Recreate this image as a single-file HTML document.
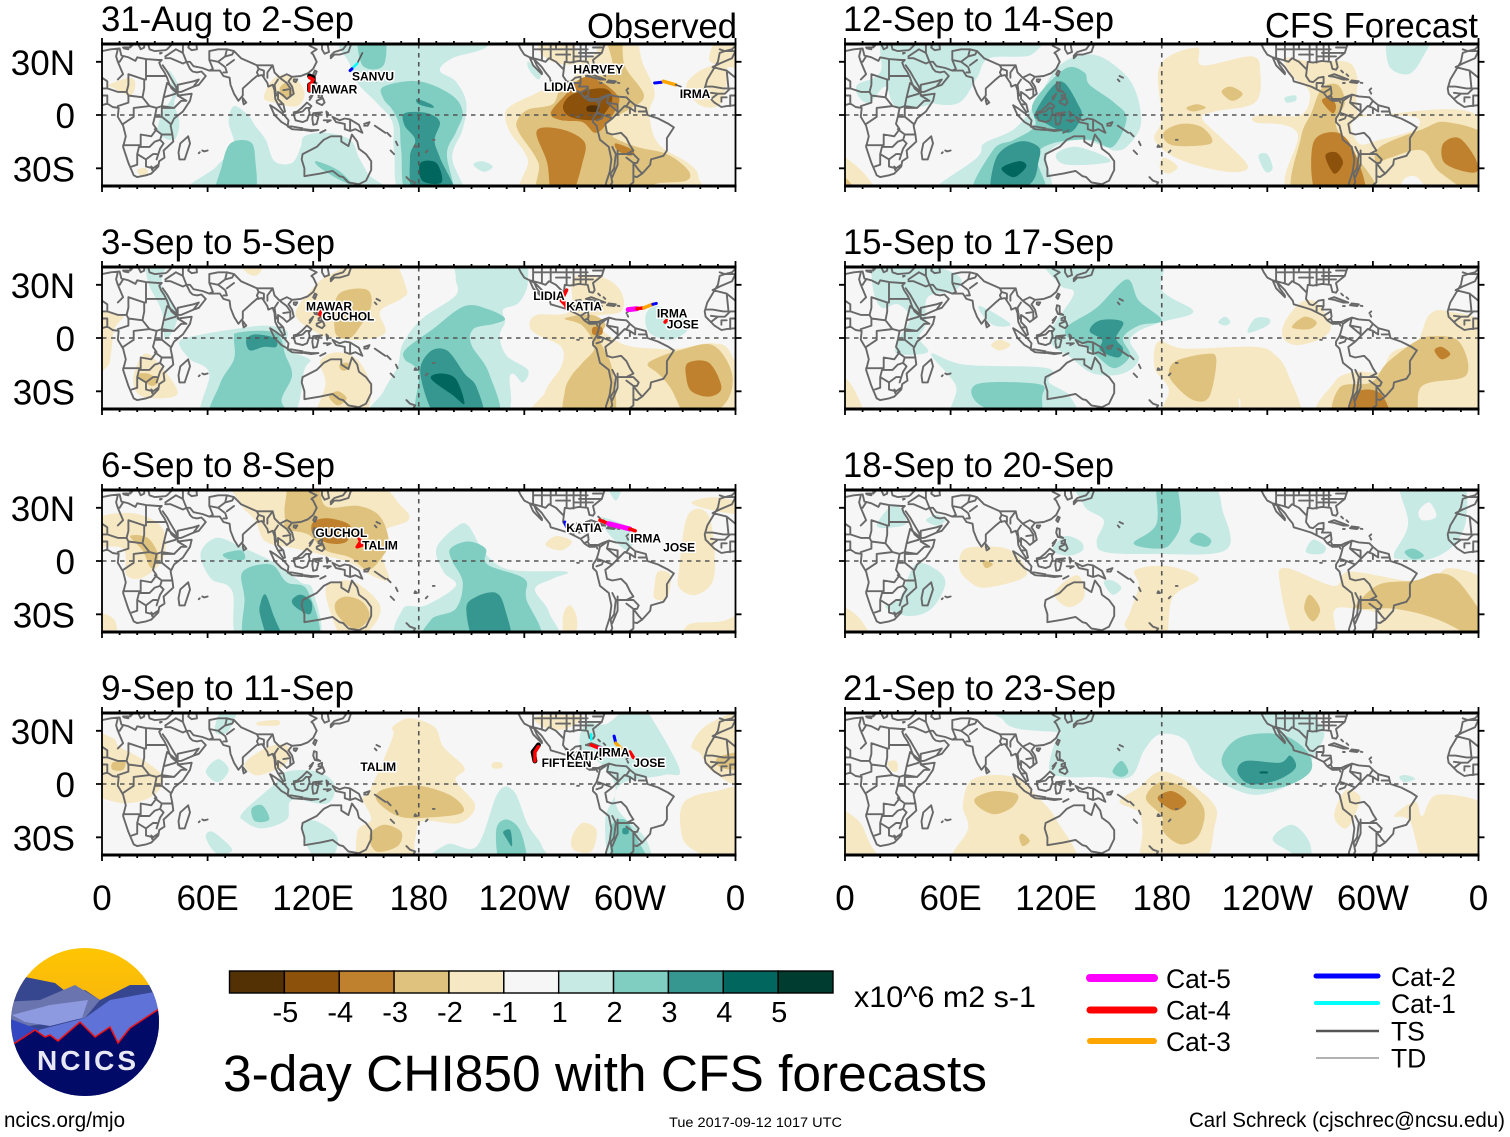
<!DOCTYPE html>
<html lang="en">
<head>
<meta charset="utf-8">
<title>3-day CHI850 with CFS forecasts</title>
<style>
html,body{margin:0;padding:0;background:#fff;width:1510px;height:1137px;overflow:hidden}
svg{display:block;font-family:"Liberation Sans",sans-serif}
text{fill:#000}
.storm{font-size:12px;font-weight:bold;stroke:#fff;stroke-width:3px;paint-order:stroke;stroke-linejoin:round;fill:#000}
</style>
</head>
<body>
<svg id="chart" xmlns="http://www.w3.org/2000/svg" width="1510" height="1137" viewBox="0 0 1510 1137">
  <defs>
    <linearGradient id="sky" x1="0" y1="0" x2="0" y2="1"><stop offset="0" stop-color="#ffc800"/><stop offset="1" stop-color="#ee9a22"/></linearGradient>
    <clipPath id="logo-clip"><circle cx="85" cy="1022" r="74"/></clipPath>
  </defs>
  <g id="panels"></g>

  <g font-size="35">
    <text x="101" y="31" textLength="253" lengthAdjust="spacingAndGlyphs">31-Aug to 2-Sep</text>
    <text x="101" y="254" textLength="234" lengthAdjust="spacingAndGlyphs">3-Sep to 5-Sep</text>
    <text x="101" y="477" textLength="234" lengthAdjust="spacingAndGlyphs">6-Sep to 8-Sep</text>
    <text x="101" y="700" textLength="253" lengthAdjust="spacingAndGlyphs">9-Sep to 11-Sep</text>
    <text x="843" y="31" textLength="271" lengthAdjust="spacingAndGlyphs">12-Sep to 14-Sep</text>
    <text x="843" y="254" textLength="271" lengthAdjust="spacingAndGlyphs">15-Sep to 17-Sep</text>
    <text x="843" y="477" textLength="271" lengthAdjust="spacingAndGlyphs">18-Sep to 20-Sep</text>
    <text x="843" y="700" textLength="273" lengthAdjust="spacingAndGlyphs">21-Sep to 23-Sep</text>
    <text x="587" y="38" textLength="150" lengthAdjust="spacingAndGlyphs">Observed</text>
    <text x="1265" y="37.5" textLength="213" lengthAdjust="spacingAndGlyphs">CFS Forecast</text>
  </g>

  <g id="colorbar"></g>
  <text x="854" y="1007" font-size="30" textLength="182" lengthAdjust="spacingAndGlyphs">x10^6 m2 s-1</text>
  <text x="223" y="1091" font-size="51" textLength="764" lengthAdjust="spacingAndGlyphs">3-day CHI850 with CFS forecasts</text>

  <g font-size="26.5">
    <line x1="1090" y1="978" x2="1154" y2="978" stroke="#ff00ff" stroke-width="8" stroke-linecap="round"/>
    <text x="1166" y="988">Cat-5</text>
    <line x1="1090" y1="1010" x2="1154" y2="1010" stroke="#ff0000" stroke-width="7" stroke-linecap="round"/>
    <text x="1166" y="1019.5">Cat-4</text>
    <line x1="1090" y1="1041" x2="1154" y2="1041" stroke="#ffa500" stroke-width="6" stroke-linecap="round"/>
    <text x="1166" y="1051">Cat-3</text>
    <line x1="1316" y1="976" x2="1378" y2="976" stroke="#0000ff" stroke-width="5" stroke-linecap="round"/>
    <text x="1391" y="986">Cat-2</text>
    <line x1="1316" y1="1003" x2="1378" y2="1003" stroke="#00ffff" stroke-width="4" stroke-linecap="round"/>
    <text x="1391" y="1013">Cat-1</text>
    <line x1="1316" y1="1031" x2="1379" y2="1031" stroke="#555" stroke-width="2.5"/>
    <text x="1391" y="1040.5">TS</text>
    <line x1="1316" y1="1058" x2="1379" y2="1058" stroke="#999" stroke-width="1.5"/>
    <text x="1391" y="1067.5">TD</text>
  </g>

  <g clip-path="url(#logo-clip)">
    <rect x="0" y="940" width="170" height="170" fill="url(#sky)"/>
    <path d="M0,990 L25,977 L55,983 L70,995 L85,990 L100,1000 L130,985 L165,985 L165,1100 L0,1100Z" fill="#36468f"/>
    <path d="M0,1002 L40,1000 L75,985 L100,1000 L85,1018 L0,1030Z" fill="#6a74ae"/>
    <path d="M85,1018 L110,1000 L165,990 L165,1100 L0,1100 L0,1040 Z" fill="#5f72d8"/>
    <path d="M12,1015 L50,1005 L88,1000 L82,1018 L50,1026 L25,1022Z" fill="#8e9ae0"/>
    <path d="M5,1017 L40,1030 L15,1043 L5,1043Z" fill="#3348c0"/>
    <path d="M0,1042 L15,1043 L35,1030 L45,1037 L50,1035 L58,1041 L80,1022 L95,1037 L110,1027 L118,1043 L130,1028 L165,1005 L165,1100 L0,1100Z" fill="#020a68" stroke="#ee1111" stroke-width="1.5"/>
    <text x="37" y="1070" font-size="28" font-weight="bold" style="fill:#e8e8f4" textLength="99" lengthAdjust="spacing">NCICS</text>
  </g>

  <text x="4" y="1127" font-size="21" textLength="121" lengthAdjust="spacingAndGlyphs">ncics.org/mjo</text>
  <text x="669" y="1127" font-size="14" textLength="173" lengthAdjust="spacingAndGlyphs">Tue 2017-09-12 1017 UTC</text>
  <text x="1189" y="1127" font-size="21" textLength="316" lengthAdjust="spacingAndGlyphs">Carl Schreck (cjschrec@ncsu.edu)</text>
</svg>

<script>
// ---------- chart data (anomaly contour outlines as [level, [lon,lat,...]]) ----------
const levelValues = [-5,-4,-3,-2,-1,0,1,2,3,4,5];
const barTickLabels = ['-5','-4','-3','-2','-1','1','2','3','4','5'];
const lonTickLabels = ['0','60E','120E','180','120W','60W','0'];
const lonTickValues = [0,60,120,180,240,300,360];
const latTickLabels = ['30N','0','30S'];
const latTickValues = [30,0,-30];

const shapes1 = [
[1,[139,41,141,28,146,17,156,7,165,-4,166,-20,171,-40,205,-40,199,-24,205,-8,207,7,201,19,192,25,199,32,218,38,217,41]],
[1,[51,-40,65,-29,75,-18,72,-4,75,5,83,0,87,-6,93,-14,98,-26,108,-27,113,-18,115,-12,127,-10,141,-14,146,-24,151,-33,158,-40]],
[1,[38,25,44,15,41,7,44,-4,41,-14,32,-10,34,1,40,11]],
[1,[242,30,249,24,248,20,243,25]],
[1,[211,-28,216,-26,222,-29,217,-32]],
[2,[146,41,148,28,160,28,160,41]],
[2,[160,16,180,19,199,11,205,1,201,-10,196,-22,199,-40,174,-40,170,-20,169,-6,165,3,160,9]],
[3,[172,1,185,1,192,-4,189,-14,192,-24,201,-40,178,-40,175,-24,178,-14,172,-6]],
[3,[179,9,187,6,188,4,180,6]],
[4,[181,-27,190,-27,193,-38,182,-37]],
[2,[65,-40,68,-29,73,-16,84,-15,87,-24,86,-40]],
[2,[122,-26,134,-31,142,-39,134,-36,123,-29]],
[-1,[229,0,232,5,244,11,255,16,268,21,271,30,280,34,286,41,302,41,307,30,314,13,311,1,316,-16,333,-27,339,-35,333,-40,244,-40,242,-25,232,-10]],
[0,[290,-35,304,-31,306,-40,288,-40]],
[-2,[236,-3,242,3,256,6,261,15,274,21,290,25,286,41,295,41,297,28,308,11,299,3,287,-4,290,-12,304,-18,321,-22,333,-31,332,-37,314,-39,306,-40,251,-40,248,-27,237,-10]],
[-3,[247,-9,261,-8,274,-15,273,-27,266,-40,256,-40,253,-27]],
[-3,[255,1,263,11,273,21,283,19,293,11,293,5,286,-6,280,-10,273,-4,261,-3]],
[-3,[292,-16,302,-20,300,-23,293,-20]],
[-4,[262,5,268,12,285,15,290,9,284,-1,278,-3,266,-1]],
[-5,[276,5,282,5,282,2,276,2]],
[-1,[92,10,98,21,108,22,115,13,111,5,98,7]],
[-2,[101,15,105,18,109,12,103,10]],
[-1,[4,17,16,21,19,17,16,11,7,15]],
[-1,[20,-31,25,-30,26,-34,22,-34]],
[-1,[333,19,342,26,355,28,352,7,341,5,333,13]],
[-1,[345,32,352,41,362,41,362,28,352,28]],
[-1,[248,39,263,41,271,30,256,30]]
];
const shapes2 = [
[1,[44,-2,57,2,75,5,93,7,105,4,105,-6,118,-12,115,-18,105,-40,58,-40,61,-20,50,-12]],
[2,[75,0,77,3,93,4,101,1,104,-9,108,-21,102,-35,105,-40,63,-40,67,-26,75,-12]],
[3,[82,-1,87,2,98,0,99,-5,92,-5,84,-7]],
[1,[203,41,237,41,242,32,237,20,228,16,229,9,226,1,230,-10,242,-18,239,-25,232,-21,225,-40,154,-40,160,-30,168,-16,171,-3,182,11,201,24,201,34]],
[2,[173,-6,188,5,206,18,220,16,229,11,223,8,211,5,210,-4,220,-20,224,-40,181,-40,180,-20,172,-12]],
[3,[181,-21,186,-8,196,-7,206,-20,213,-28,216,-40,192,-40]],
[4,[187,-23,192,-20,201,-23,206,-37,199,-32]],
[1,[309,13,315,18,328,13,333,5,323,-1,311,3]],
[1,[26,41,38,41,34,30,43,13,36,-1,34,15,26,32]],
[-1,[77,41,93,41,89,36,82,37]],
[-1,[110,13,118,26,130,36,161,41,173,28,170,22,158,15,161,3,148,-1,134,0,122,3]],
[-2,[132,7,133,22,139,27,151,27,153,18,147,7,141,0,134,1]],
[-1,[124,-13,134,-8,146,-13,153,-30,146,-40,122,-40,127,-26]],
[-2,[129,-33,134,-30,139,-34,134,-38]],
[-2,[135,-15,140,-14,139,-18,136,-18]],
[-1,[18,-21,24,-9,32,-14,43,-31,29,-34,20,-31]],
[-2,[20,-21,26,-20,32,-24,28,-27]],
[-1,[0,11,12,13,7,5,5,-10,3,-16,0,-20]],
[-1,[243,7,247,13,266,15,268,34,285,34,295,26,295,15,279,11,295,-3,314,-6,328,-6,347,-3,358,-10,360,-40,252,-40,252,-30,261,-16,261,-5,247,2]],
[-2,[267,-21,273,-14,280,-5,273,7,263,11,278,13,286,8,283,-1,290,-18,290,-40,264,-40,263,-30]],
[-2,[310,-15,316,-11,328,-7,347,-4,358,-20,354,-37,335,-40,323,-28,316,-20]],
[-3,[333,-14,345,-14,352,-28,345,-33,335,-30,332,-22]],
[-3,[279,6,284,6,284,2,279,2]]
];
const shapes3 = [
[-1,[78,41,148,41,170,31,174,23,160,17,159,7,160,0,163,-11,153,-8,141,-1,127,3,110,7,93,11,87,23,79,32]],
[-2,[104,23,104,32,108,41,122,41,127,31,146,31,158,25,163,11,159,2,151,-5,141,2,127,6,117,15,104,18]],
[-3,[120,22,129,24,141,20,139,11,129,10,120,15]],
[-1,[127,-17,132,-12,144,-12,158,-25,153,-38,139,-40,132,-35]],
[-2,[133,-23,139,-20,148,-23,152,-31,146,-38,139,-36,133,-29]],
[-1,[0,23,17,27,34,19,35,2,24,-9,14,-8,12,7,0,9]],
[-2,[16,14,26,13,32,3,28,-4,23,6]],
[-1,[252,9,258,14,267,11,261,6]],
[-1,[314,-14,316,-6,323,-8,321,-21,314,-21]],
[-1,[333,26,345,25,348,-8,338,-19,328,-15,328,-4]],
[-1,[335,33,348,36,360,32,360,26,345,29]],
[-1,[333,-36,352,-34,360,-30,360,-40,333,-40]],
[-1,[262,-31,266,-25,270,-33,268,-40,263,-40]],
[-1,[0,-30,7,-33,7,-40,0,-40]],
[1,[56,4,65,13,79,8,98,-1,113,-12,120,-17,122,-40,79,-40,74,-17,62,-10]],
[2,[80,-6,96,-2,105,-12,117,-17,122,-40,83,-40,81,-21]],
[2,[69,4,79,6,81,1,72,1]],
[3,[90,-24,93,-19,98,-32,104,-40,96,-40,90,-31]],
[3,[108,-22,113,-19,119,-23,118,-30,110,-26]],
[1,[190,7,201,19,208,20,218,4,232,-5,264,-6,256,-10,246,-16,254,-29,254,-40,173,-40,171,-27,184,-25,201,-14,194,-6]],
[2,[198,7,208,11,218,7,219,-2,240,-10,241,-21,247,-40,186,-40,187,-33,201,-27,205,-12,199,0]],
[3,[207,-27,213,-20,224,-18,229,-27,232,-40,213,-40]],
[1,[286,41,296,41,292,34]],
[1,[283,23,287,24,302,17,299,6,290,13]]
];
const shapes4 = [
[-1,[152,-4,165,26,165,32,175,37,189,32,194,21,206,9,201,2,212,-12,203,-22,182,-21,178,-31,174,-40,148,-40,145,-27,153,-20,148,-8]],
[-2,[156,-9,160,-3,180,-1,199,-7,205,-16,184,-19,168,-18]],
[-2,[152,-29,160,-23,170,-27,168,-35,156,-38]],
[-1,[81,11,89,18,98,22,106,21,105,12,96,7,87,5]],
[-1,[0,27,6,26,10,21,21,15,34,5,32,-4,21,-10,7,-10,0,-2]],
[-2,[6,12,13,13,12,8,6,8]],
[-1,[89,35,100,36,100,33,89,33]],
[-1,[335,22,345,34,360,38,360,0,347,7,340,17]],
[-2,[350,15,360,18,360,9,352,9]],
[-1,[329,-26,331,-10,349,-4,360,-5,360,-40,336,-37]],
[-1,[267,-30,273,-22,281,-26,278,-38,268,-37]],
[-1,[222,12,227,12,227,9,222,9]],
[-1,[247,38,273,38,263,31,251,32]],
[1,[80,-16,98,0,105,7,122,7,132,0,128,-11,108,-9,105,-20,91,-25,81,-21]],
[2,[85,-14,91,-12,95,-20,87,-21]],
[1,[59,7,66,14,72,8,66,1]],
[1,[70,41,78,41,72,30,64,30]],
[1,[59,-30,63,-27,74,-37,65,-39]],
[1,[114,-23,122,-21,134,-31,127,-40,117,-36]],
[1,[186,-40,196,-34,213,-35,225,-5,234,-4,242,-23,250,-35,250,-40]],
[2,[224,-26,230,-20,238,-27,241,-40,227,-40]],
[3,[228,-27,232,-26,233,-35,230,-31]],
[1,[302,41,306,41,328,9,319,5,295,0,293,-14,309,-31,311,-40,290,-40,286,-20,292,-4,286,9,272,21,275,34,287,34]],
[2,[289,-25,297,-20,304,-31,311,-40,292,-40]],
[3,[296,-25,299,-25,299,-28,296,-28]]
];
const shapes5 = [
[1,[7,17,20,24,28,41,106,41,106,34,82,32,75,21,65,7,49,7,43,15,48,6,29,5,23,16,14,7,8,10]],
[1,[49,-40,75,-24,79,-16,96,-8,107,5,122,28,141,34,158,24,166,11,168,-6,160,-18,153,-20,148,-18,132,-14,115,-22,113,-40]],
[1,[120,-22,132,-18,151,-26,126,-28]],
[2,[73,-40,84,-20,96,-14,108,-6,107,7,125,26,136,24,139,17,153,7,160,-2,152,-18,139,-14,118,-16,109,-24,113,-40]],
[3,[84,-40,86,-24,99,-15,110,-18,110,-26,105,-39]],
[3,[108,1,122,19,133,5,134,-2,127,-10,113,-4]],
[4,[89,-30,99,-26,103,-29,96,-35]],
[1,[250,10,256,11,256,8,251,7]],
[1,[235,-23,240,-22,243,-30,239,-32]],
[1,[310,41,333,41,328,32,320,23,309,28]],
[-1,[179,28,200,38,203,28,231,33,236,24,233,7,210,2,203,-2,215,-14,229,-29,217,-32,190,-25,176,-14,180,-2]],
[-1,[181,-24,189,-29,184,-33,179,-30]],
[-2,[214,13,219,16,226,12,220,8]],
[-2,[194,4,200,6,205,4,198,2]],
[-2,[181,-10,191,-5,203,-7,208,-16,186,-17]],
[-1,[250,32,266,30,285,30,291,22,291,5,299,0,359,0,360,-40,257,-40,257,-10,233,-4,236,0,259,0,264,13,254,22]],
[0,[290,-2,323,-1,324,-8,304,-14,292,-16]],
[0,[317,-37,325,-35,332,-40,317,-40]],
[-2,[259,-13,265,1,271,15,280,17,284,7,279,-6,290,-22,302,-40,256,-40]],
[-2,[304,-18,328,-8,342,-4,360,-14,360,-40,339,-33,328,-20,310,-24,302,-27]],
[-3,[266,-16,280,-10,290,-22,295,-40,269,-40]],
[-3,[271,8,276,10,279,5,277,1]],
[-3,[340,-16,349,-13,358,-24,359,-32,349,-31,340,-26]],
[-4,[273,-23,279,-21,283,-27,278,-33]],
[-1,[0,-23,9,-31,18,-40,0,-40]],
[-2,[0,-30,9,-40,0,-40]]
];
const shapes6 = [
[1,[115,41,177,41,180,27,198,15,180,9,167,4,162,-2,167,-12,158,-20,141,-20,127,-10,118,-4,118,6,130,25,122,30]],
[2,[126,1,127,7,143,17,160,33,167,21,180,10,167,7,158,0,162,-10,153,-17,143,-10,134,-2]],
[3,[139,4,145,10,158,9,154,0,158,-6,155,-11,145,-7,146,-1]],
[1,[49,-9,68,-15,115,-17,116,-25,128,-33,127,-40,64,-40,63,-27]],
[2,[75,-26,110,-26,112,-33,108,-40,77,-38]],
[1,[16,41,28,41,63,36,63,27,47,23,46,8,42,0,47,-8,30,-9,30,-2,37,11,30,19,21,17,16,27]],
[1,[77,18,94,8,85,7,78,13]],
[1,[212,9,216,12,219,9,216,7]],
[1,[229,3,233,11,241,11,240,7]],
[-1,[249,0,250,9,259,20,268,20,276,7,271,0,257,-4]],
[-2,[254,6,261,12,268,9,264,5]],
[-1,[83,-4,88,-1,94,-4,88,-7]],
[-1,[178,-2,193,-6,233,-5,245,-10,252,-21,259,-40,229,-40,224,-34,220,-40,181,-40,184,-29,176,-17]],
[-2,[184,-20,188,-13,205,-9,211,-12,207,-33,198,-35,188,-27]],
[-1,[273,-40,278,-25,290,-19,304,-19,311,-8,325,-2,332,13,343,15,360,4,360,-40]],
[-2,[280,-40,281,-28,299,-25,308,-14,324,-2,334,1,349,-2,353,-21,328,-27,321,-40]],
[-3,[287,-40,290,-31,304,-31,309,-40]],
[-3,[335,-7,339,-5,344,-9,339,-12]],
[-1,[0,-21,4,-27,11,-40,0,-40]]
];
const shapes7 = [
[1,[136,41,202,41,215,27,216,6,175,4,148,5,143,11,147,23,136,31]],
[2,[164,10,177,21,177,41,187,41,191,23,186,11,179,7]],
[2,[196,11,201,16,208,12,205,8]],
[1,[118,6,125,14,134,11,135,6,127,3]],
[1,[23,-26,31,-21,40,-2,52,-5,57,-13,49,-27,36,-31]],
[1,[46,23,52,26,57,23,52,20]],
[1,[18,20,28,32,35,22,28,19]],
[1,[147,-12,152,-11,157,-15,152,-19]],
[1,[262,5,266,12,273,8,271,4]],
[1,[312,4,320,21,316,41,349,41,353,24,346,9,332,1,316,1]],
[0,[326,28,332,33,336,25,328,23]],
[2,[318,5,323,7,329,3,323,1]],
[-1,[65,-4,67,6,77,8,94,6,103,-8,80,-15,70,-11]],
[-2,[78,0,81,0,84,-2,80,-4]],
[-1,[119,-18,132,-8,136,-20,127,-26]],
[-1,[160,-38,162,-29,167,-14,165,-5,184,-3,201,-10,186,-21,181,-40]],
[-1,[0,-26,7,-31,15,-40,0,-40]],
[-1,[247,-12,251,-4,278,-14,287,-6,328,-12,344,-4,360,-14,360,-40,304,-40,304,-31,290,-27,278,-28,278,-40,257,-40]],
[-2,[292,-23,304,-13,324,-11,337,-7,349,-12,360,-37,360,-40,337,-33,313,-27,292,-27]],
[-2,[261,-27,264,-19,270,-27,266,-34]]
];
const shapes8 = [
[1,[90,41,240,41,271,32,266,15,257,2,236,-6,219,-2,202,9,193,25,179,28,170,19,162,4,143,4,125,4,116,8,120,26,122,29,99,31,90,36]],
[2,[214,13,224,26,247,28,262,19,265,8,254,0,238,-3,224,0]],
[3,[223,7,228,13,247,12,253,16,256,9,245,2,230,0]],
[4,[236,7,240,7,240,6,236,6]],
[2,[152,7,157,13,161,7,157,4]],
[1,[315,4,319,5,324,3,318,1]],
[1,[243,-31,254,-23,264,-33,264,-40,254,-39]],
[-1,[156,-10,167,-2,179,7,195,1,210,-12,210,-24,202,-40,170,-40,169,-27,167,-16]],
[-2,[171,-8,179,1,193,-2,204,-14,201,-29,191,-34,181,-27,180,-18]],
[-3,[178,-7,186,-4,194,-10,188,-15,180,-11]],
[-1,[67,-12,73,3,96,4,108,-6,120,-20,129,-40,63,-40,70,-25]],
[-2,[74,-8,85,-4,98,-6,95,-13,85,-17,76,-13]],
[-2,[99,-30,101,-28,105,-32,101,-35]],
[-1,[0,-16,7,-20,14,-33,20,-40,0,-40]],
[-1,[24,12,29,13,30,8,27,7]],
[-1,[278,-18,284,-4,292,-6,292,-12,285,-25]],
[-1,[312,-18,324,-10,328,-18,337,-6,360,-14,360,-40,332,-40,321,-21]]
];

// storm labels: [name, lon, lat]
const storms1 = [['SANVU',154,22],['MAWAR',132,14.6],['HARVEY',282,26],['LIDIA',260,16],['IRMA',337,12]];
const storms2 = [['MAWAR',129,18],['GUCHOL',140,12.4],['LIDIA',254,24],['KATIA',274,18],['IRMA',324,14],['JOSE',330,8]];
const storms3 = [['GUCHOL',136,16],['TALIM',158,9],['KATIA',274,19],['IRMA',309,13],['JOSE',328,8]];
const storms4 = [['TALIM',157,10],['FIFTEEN',264,12],['KATIA',274,16],['IRMA',291,18],['JOSE',311,12]];

// storm tracks: [category, [lon,lat,...]]
const tracks1 = [
['TS',[148,35,145,29]],['C1',[145,29,142,26]],['C2',[142,26,141,25]],
['C0',[118,22,120,21,120,18,118,17,118,14]],['C4',[118,21,120,20,119,18,118,17,118,14]],
['C2',[314,18,318,18.5]],['C3',[319,19,326,17]],['TS',[326,17,329,16]]
];
const tracks2 = [
['C5',[299,16,304,16.5]],['C4',[304,16.5,308,17]],['C3',[308,17,313,19]],['C2',[313,19,315,19.5]],
['C4',[264,27,261,21,263,19]],['C4',[262,22,264,17]],['C4',[319,14,322,11,320,9]],['C4',[124,17,124,13]]
];
const tracks3 = [
['C4',[283,23,288,21]],['C5',[288,21,300,18]],['C4',[300,18,303,17]],['C2',[263,22,264,19]],
['C4',[145,15,147,11,145,8,148,9]]
];
const tracks4 = [
['C0',[248,22,245,18,246,13]],['C4',[248,21,246,18,246,13]],['C2',[291,27,292,23]],['C3',[292,23,295,20]],
['C1',[278,28,278,25]],['C4',[278,22,283,20]],['C5',[283,20,285,19]],['TS',[264,20,265,19]],['C4',[300,18,302,15]]
];

// world map polylines in lon/lat
const coastLines = [
[0,36,5,37,10,37.5,11,33.5,15,32.5,19,30.5,20,32.5,25,31.5,32,31,34,31,32.5,29.5,33.5,27,35.5,24,37,21,38,18,39.5,15,43,12,43.5,11,51,12,50,8,46,2,41,-2,39,-6,40,-11,40.5,-15,35,-20,35.5,-24,32.5,-26,32,-29,28,-33,25,-34,20,-35,18,-34,15,-27,12,-18,13.5,-12,12,-6,9,-1,9.5,4,6,4.5,3,6.5,0,5.5],
[360,5.5,355,5,352,4.5,348,7,346,9,343,12,342.5,15,344,20,347,25,350,30,351,35,354,36,358,36,360,36],
[351,37,354,36,358,37,360,39,360,41],[0,39,0,41],
[16,41,18,40,16,38,16,40,13,41],[20,41,22,37,24,38,24,41],[26,41,27,37,30,36,36,36.5,37,37,41,41],
[12,38,15,38,15,37,12.5,37.5,12,38],[33,35,34,35,33,34.6,33,35],
[49,-12,50,-16,47,-25,44,-25,43.5,-21,44.5,-16,49,-12],
[34.5,28,37,24.5,39,21,42,16,43,13,45,13,52,16,55,17,59,22,56.5,24.5,54,24,51.5,24.5,50,26,48,30,50,30,52,27.5,57,26.5,61,25,67,25,69,22,72.5,21,73,17,75,12,77.5,8,80,11,80,15,85,19.5,88,22,91,22.5,94,18,94.5,16,97,17,98,14,98.5,9,100,6,103,1.5,104,2,103,6,100,9,100,13,103,11,105,9,109,12,108,16,106,19,108,21.5,113,22,117,23.5,120,26,122,30,120,34,119,35,122,37,118,39,121,41],
[50,41,49,38,51,36.5,54,37,53.5,41],
[125,41,125,37,126.5,34.5,129,35.5,128,41],
[130,32,132,34,135,34,140,35.5,142,41],[140,41,137,37,132,35.5,130,33.5,130,32],
[121,25,120,23,121,22,122,24.5,121,25],[109,20,111,20,110,18.5,109,19,109,20],
[80,9.5,82,7,80.5,6,80,8,80,9.5],
[120.5,18.5,122,18,122,14,124,13,121,13.5,120,16,120.5,18.5],
[122,8,125.5,9.5,126.5,7,125,5.5,122,7,122,8],[118,10,120,12,119,10,118,8.5],[123,11,125,12,125,10,123,10],
[109,1.5,111,2,113.5,4,116.5,7,119,5,117.5,3,118,1,116.5,-3,114,-4,110,-3,109,0,109,1.5],
[95.5,5.5,98,4,103.5,0,106,-3,105.5,-6,102,-4,98,0,95.5,5.5],
[105.5,-6.5,108,-6.5,114,-7.5,114,-8.5,108,-8,105.5,-6.5],[115,-8,119,-8.5,123,-8.5,119,-9,115,-8.5],[124,-10,127,-8.5,125,-9.5,124,-10],
[120,1,125,1.5,121,0,123,-1,122,-5,120,-5.5,119.5,-2,120,1],[127.5,2,128.5,1,128,-1,127.5,2],[126,-3,130,-3,128,-4],
[131,-1,135,-3,138,-2,141,-2.5,146,-5.5,148,-10,144,-8,141,-9,138,-8,138,-5,133,-4,131,-1],[149,-5,152,-4,151,-6,149,-6],[155,-6,158,-8,161,-10],
[114,-22,122,-18,126,-14,130,-12,136,-12,136,-15,140,-17.5,142,-11,145,-15,146,-19,150,-22,153,-26,153,-31,150,-37,146,-39,143,-38.5,140,-38,137,-35,135,-34.5,131,-31.5,124,-33,115,-34.5,115,-30,113.5,-25,114,-22],
[173,-35,175,-37,178,-38,176,-41],[167,-15,168,-17],[164,-20,166,-22],[178,-17,179,-18,177.5,-18,178,-17],[184,-21,185,-20],[188,-14,189,-14],
[156,22,158,21],[155,20,156,19],[162,-10,164,-12],[60,-20,58,-20.5,57,-20],[55.5,-21,55,-21.5],
[236,41,238,37,240,34,243,32.5,246,31,250,27,252,24,254.5,21,255,19,260,17.5,265,16,268,14.5,272,12.5,274,10,277,8,280,8,282,9,283,8,282,4,281,1,279,-2,279,-4,281,-6,283,-14,288,-18,289.5,-25,288.5,-32,286.5,-38,286,-41],
[243,32.5,245,28,250,23,250,24,247,28,245.5,31.5],
[262.5,26,263,30,266,29.5,271,30.5,276,30,277,26,279,25.5,280,27,279,31,284,35,285,38,286,41],
[262.5,26,262,22,264,19,266,18.5,269,21,272,21.5,272,18,271,16,276,16,276.5,12,276,11,277,9,280,9,282,9,284,10,288,11.5,292,10.5,298,10,300,8,303,5.5,309,4,310,0,316,-2,322,-5,325,-7,321,-13,321,-20,319,-23,312,-25,311.5,-28,307,-33,304,-35,302,-34.5,302,-38,298,-41],
[275,22,278,23,282,21.5,286,20,283,20,278,21.5,275,22],[288,19.5,292,19,291,18,287,18.5,288,19.5],[283,18,284,18],[293,18.2,294,18],[298,14,299,15],[298.5,13,299,12],[282,25,283,24],[285,23,286,22],[270,-1,271,-1],[281,8,281.5,7]
];
const borderLines = [
[9,37,8,33,9,30,12,23,9,20],[12,33,10,30,9,30],[25,31.5,25,20,24,20,24,15,23,10,27,5,31,4,34,5,35,10,37,18],[25,22,36,22],[15,23,24,20],[15,23,15,17,14,13,9,13,3,15,3,19,0,21],
[23,10,15,11,14,13],[15,11,15,7,9,5],[27,5,18,4,18,-1,12,-5],[31,4,30,-1,29,-5,31,-8,28,-12,22,-11,22,-17,12,-17],[30,-1,34,-1,34,4,41,4,45,8,48,8,43,11],[34,-1,39,-5],[34,5,41,4],[30,-8,34,-11,35,-11,40,-11],[34,-11,33,-14,30,-15,27,-18,25,-18,21,-18,20,-22,20,-28,17,-29],[33,-14,35,-16,33,-19,32,-22,31,-25],[20,-22,25,-25,29,-22,31,-22],[25,-25,25,-29,29,-30,32,-28],[29,-30,28,-29,28.5,-31,29,-30],[35,10,42,12],[37,18,43,13],
[3,11,3,6.5],[3,11,0,11,0,15,3,15],[0,11,0,6],
[360,21,355,25,347,27,351,29],[355,25,356,15,353,15,347,16,343,16],[360,15,357,15,354,12,350,12,346,12.5],[352,10,352,7.5],[355,10,352,10],[357,5,357,11],[360,11,357,11],[346,9,350,12],[360,36,358,32,351,29],[360,11,360,6],
[43,13,43,17,52,19,55,20,52,16],[36,32,39,32,46,29,48,30],[42,37,46,35,48,30],[36,33,42,37],[46,39,46,35],[61,36,61,31,63,26,61,25],[61,36,66,37,71,37,75,36],[61,31,66,30,70,33,71,37],[70,33,74,34,75,36,79,32,88,28,97,28,98,24,101,21,105,23,108,21.5],[66,30,70,27,71,24,69,24],[71,28,75,31],[89,26,92,25,92,22],[88,28,89,26,88,24,89,22],[97,28,94,24,94,21],[100,20,98,17,99,11],[101,21,105,18,107,15,107,11],[103,14,106,14.5],[100,6,102,6],[110,1,114,2,116,4,118,4],[141,-2.5,141,-9],
[243,32.5,249,31,252,30,254,32,258,30,262,26],[236,41,256,41],[245,41,245,32],[250,41,250,31],[255,41,255,32],[258,41,258,37],[256,37,266,37],[250,37,256,37],[245,37,250,37],[258,34,266,34],[264,41,264,30],[268,41,268,29.5],[272,41,272,30.5],[266,37,276,37],[276,35,284,35],[271,35,276,35],[275,41,275,31],[279,38,285,38],[268,33,279,33],
[268,14.5,268,18,271,18],[272,12.5,276,15],[274,10,276,11],[283,8,288,11.5,287,7,293,6,293,1,290,-2,285,0,282,1],[287,7,293,2],[281,-3,284,-2,285,0],[290,-2,286,-5,287,-10,290,-11],[290,-11,295,-10,298,-13,300,-17,302,-20,298,-22,292,-22,290,-18],[292,-22,291,-30,289,-33,290,-38,288,-41],[293,-20,293,-28,290,-35],[298,-22,302,-22,305,-25,304,-27,302,-27,298,-24],[302,-27,305,-31,307,-33],[302,-27,302,-31,302,-34.5],[300,1,300,4,297,5,293,1],[300,4,303,2,303,5.5],[300,8,298,5,297,5],[305,2,309,2]
];

const levelColor = {'-5':'#543005','-4':'#8c510a','-3':'#bf812d','-2':'#dfc27d','-1':'#f6e8c3','0':'#f6f6f6','1':'#c7eae5','2':'#80cdc1','3':'#35978f','4':'#01665e','5':'#003c30'};
const trackColor = {C5:'#ff00ff',C4:'#ff0000',C3:'#ffa500',C2:'#0000ff',C1:'#00ffff',TS:'#555555',C0:'#000000'};
const trackWidth = {C5:5,C4:3.5,C3:3.5,C2:3,C1:2.5,TS:1.6,C0:5};

const panelLayout = [
 {left:102,top:44,shapes:shapes1,storms:storms1,tracks:tracks1},
 {left:102,top:267,shapes:shapes2,storms:storms2,tracks:tracks2},
 {left:102,top:490,shapes:shapes3,storms:storms3,tracks:tracks3},
 {left:102,top:713,shapes:shapes4,storms:storms4,tracks:tracks4},
 {left:845,top:44,shapes:shapes5,storms:[],tracks:[]},
 {left:845,top:267,shapes:shapes6,storms:[],tracks:[]},
 {left:845,top:490,shapes:shapes7,storms:[],tracks:[]},
 {left:845,top:713,shapes:shapes8,storms:[],tracks:[]}
];
const plotW = 633.5, plotH = 142;
const NS = 'http://www.w3.org/2000/svg';

function make(tag, attrs, parent){
  const e = document.createElementNS(NS, tag);
  for (const k in attrs) e.setAttribute(k, attrs[k]);
  if (parent) parent.appendChild(e);
  return e;
}

function smoothPath(flat, xs, ys){
  const p = [];
  for (let i = 0; i < flat.length; i += 2){
    let lon = flat[i], lat = flat[i+1];
    if (lon <= 0) lon = -6;
    if (lon >= 360) lon = 366;
    if (lat <= -40) lat = -47;
    if (lat >= 40) lat = 47;
    p.push([xs(lon), ys(lat)]);
  }
  const n = p.length;
  let d = 'M' + p[0][0].toFixed(1) + ',' + p[0][1].toFixed(1);
  for (let i = 0; i < n; i++){
    const a = p[(i-1+n)%n], b = p[i], c = p[(i+1)%n], e = p[(i+2)%n];
    const c1x = b[0] + (c[0]-a[0])/6, c1y = b[1] + (c[1]-a[1])/6;
    const c2x = c[0] - (e[0]-b[0])/6, c2y = c[1] - (e[1]-b[1])/6;
    d += 'C' + c1x.toFixed(1) + ',' + c1y.toFixed(1) + ' ' + c2x.toFixed(1) + ',' + c2y.toFixed(1) + ' ' + c[0].toFixed(1) + ',' + c[1].toFixed(1);
  }
  return d + 'Z';
}

function linePath(lists, xs, ys){
  let d = '';
  lists.forEach(function(flat){
    for (let i = 0; i < flat.length; i += 2){
      d += (i ? 'L' : 'M') + xs(flat[i]).toFixed(1) + ',' + ys(flat[i+1]).toFixed(1);
    }
  });
  return d;
}

// paint order: level 1 outlines, then "hole" (level 0) outlines, then stronger levels
function paintRank(level){
  return level === 0 ? 1.5 : Math.abs(level);
}

const root = document.getElementById('panels');
const defs = document.querySelector('defs');

panelLayout.forEach(function(pn, idx){
  const xs = function(lon){ return pn.left + lon * plotW / 360; };
  const ys = function(lat){ return pn.top + (40 - lat) * plotH / 80; };
  const clipId = 'clip-' + idx;
  const cp = make('clipPath', {id:clipId}, defs);
  make('rect', {x:pn.left, y:pn.top, width:plotW, height:plotH}, cp);

  const g = make('g', {}, root);
  
  

  const bg = make('rect', {x:pn.left, y:pn.top, width:plotW, height:plotH, fill:'#f6f6f6'}, g);
  
  

  const inner = make('g', {'clip-path':'url(#' + clipId + ')'}, g);

  const order = pn.shapes.slice().sort(function(a, b){ return paintRank(a[0]) - paintRank(b[0]); });
  order.forEach(function(s){
    const path = make('path', {d:smoothPath(s[1], xs, ys), fill:levelColor[s[0]]}, inner);
    
    
  });

  const coast = make('path', {d:linePath(coastLines.concat(borderLines), xs, ys), fill:'none', stroke:'#686868', 'stroke-width':1.9, 'stroke-linejoin':'round', 'stroke-linecap':'round'}, inner);
  
  

  const eq = make('line', {x1:xs(0), x2:xs(360), y1:ys(0), y2:ys(0), stroke:'#555', 'stroke-width':1.6, 'stroke-dasharray':'4.5 4.5'}, inner);
  
  
  const dl = make('line', {x1:xs(180), x2:xs(180), y1:ys(40), y2:ys(-40), stroke:'#555', 'stroke-width':1.6, 'stroke-dasharray':'4.5 4.5'}, inner);
  
  

  pn.tracks.forEach(function(t){
    const tr = make('path', {d:linePath([t[1]], xs, ys), fill:'none', stroke:trackColor[t[0]], 'stroke-width':trackWidth[t[0]], 'stroke-linecap':'round', 'stroke-linejoin':'round'}, inner);
    
    
  });

  pn.storms.forEach(function(s){
    const t = make('text', {x:xs(s[1]), y:ys(s[2]) + 4.5, 'text-anchor':'middle', class:'storm'}, inner);
    
    
    t.textContent = s[0];
  });

  const frame = make('rect', {x:pn.left, y:pn.top, width:plotW, height:plotH, fill:'none', stroke:'#000', 'stroke-width':1.8}, g);
  
  
  const topEdge = make('line', {x1:pn.left-1, x2:pn.left+plotW+1, y1:pn.top, y2:pn.top, stroke:'#000', 'stroke-width':3}, g);
  
  
  const botEdge = make('line', {x1:pn.left-1, x2:pn.left+plotW+1, y1:pn.top+plotH, y2:pn.top+plotH, stroke:'#000', 'stroke-width':3}, g);
  
  

  let tickD = '';
  for (let lon = 0; lon <= 360; lon += 10){
    const len = lon % 60 === 0 ? 6 : 3;
    const x = xs(lon).toFixed(1);
    tickD += 'M' + x + ',' + pn.top + 'V' + (pn.top - len) + 'M' + x + ',' + (pn.top + plotH) + 'V' + (pn.top + plotH + len);
  }
  for (const lat of latTickValues){
    const y = ys(lat).toFixed(1);
    tickD += 'M' + pn.left + ',' + y + 'H' + (pn.left - 6) + 'M' + (pn.left + plotW) + ',' + y + 'H' + (pn.left + plotW + 6);
  }
  const ticks = make('path', {d:tickD, stroke:'#000', 'stroke-width':1.8, fill:'none'}, g);
  
  

  if (pn.left < 200){
    latTickLabels.forEach(function(lbl, i){
      const t = make('text', {x:75, y:ys(latTickValues[i]) + 13, 'text-anchor':'end', 'font-size':35}, g);
      
      
      t.textContent = lbl;
    });
  }
  if (pn.top === 713){
    lonTickLabels.forEach(function(lbl, i){
      const t = make('text', {x:xs(lonTickValues[i]), y:910, 'text-anchor':'middle', 'font-size':35}, g);
      
      
      t.textContent = lbl;
    });
  }
});

// colorbar
const bar = document.getElementById('colorbar');
const barX = 229.5, barW = 603.5, barY = 971, barH = 22;
const boxW = barW / levelValues.length;
levelValues.forEach(function(v, i){
  const r = make('rect', {x:barX + i * boxW, y:barY, width:boxW, height:barH, fill:levelColor[v], stroke:'#000', 'stroke-width':1.4}, bar);
  
  
});
barTickLabels.forEach(function(lbl, i){
  const t = make('text', {x:barX + (i + 1) * boxW + 1, y:1022, 'text-anchor':'middle', 'font-size':29}, bar);
  
  
  t.textContent = lbl;
});
</script>
</body>
</html>
